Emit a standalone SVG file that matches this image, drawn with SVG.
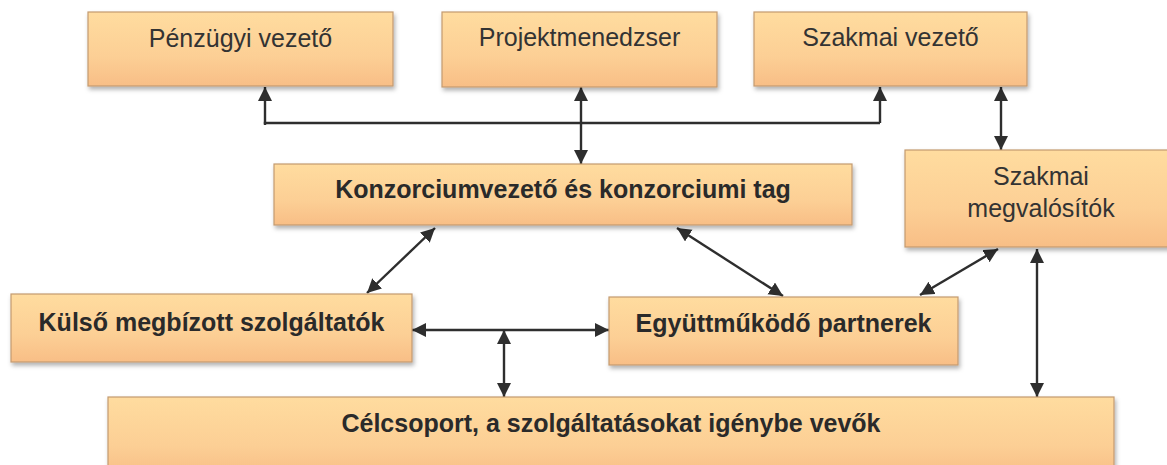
<svg xmlns="http://www.w3.org/2000/svg" width="1167" height="465" viewBox="0 0 1167 465">
<defs>
<linearGradient id="g" x1="0" y1="0" x2="0" y2="1">
<stop offset="0" stop-color="#FFDC9F"/>
<stop offset="0.6" stop-color="#FCCF95"/>
<stop offset="1" stop-color="#F8BE86"/>
</linearGradient>
<filter id="sh" x="-5%" y="-10%" width="110%" height="130%">
<feDropShadow dx="1.5" dy="3" stdDeviation="2" flood-color="#000" flood-opacity="0.3"/>
</filter>
<marker id="ah" markerUnits="userSpaceOnUse" markerWidth="15" markerHeight="15" refX="14" refY="7" orient="auto-start-reverse">
<path d="M0,0 L14,7 L0,14 z" fill="#2e2e2e"/>
</marker>
</defs>
<style>
.box{fill:url(#g);stroke:#C39A70;stroke-width:1.2;filter:url(#sh)}
.t{font-family:"Liberation Sans",Arial,sans-serif;font-size:25px;fill:#333;text-anchor:middle}
.b{font-weight:bold;fill:#2a2a2a}
.c{fill:none;stroke:#2e2e2e;stroke-width:2.4}
.a{marker-start:url(#ah);marker-end:url(#ah)}
</style>
<rect width="1167" height="465" fill="#fff"/>
<g id="connectors">
<path class="c" d="M265,125 V123 H880"/>
<path class="c" d="M265,124 V87" marker-end="url(#ah)"/>
<path class="c" d="M880,123 V87" marker-end="url(#ah)"/>
<path class="c a" d="M581,87 V164"/>
<path class="c a" d="M1001,87 V150"/>
<path class="c a" d="M435,228 L367,293"/>
<path class="c a" d="M677,228 L783,296"/>
<path class="c a" d="M412,330 H609"/>
<path class="c" d="M504,330 V397" marker-start="url(#ah)" marker-end="url(#ah)"/>
<path class="c a" d="M998,249 L920,295"/>
<path class="c a" d="M1037,249 V397"/>
</g>
<g id="penzugyi">
<rect class="box" x="88" y="12" width="305" height="74"/>
<text class="t" x="240.5" y="47">Pénzügyi vezető</text>
</g>
<g id="projektmenedzser">
<rect class="box" x="442" y="12" width="275" height="75"/>
<text class="t" x="579.5" y="46">Projektmenedzser</text>
</g>
<g id="szakmai-vezeto">
<rect class="box" x="754" y="12" width="273" height="74"/>
<text class="t" x="890.5" y="46">Szakmai vezető</text>
</g>
<g id="szakmai-megvalositok">
<rect class="box" x="905" y="150" width="272" height="97"/>
<text class="t" x="1041" y="185">Szakmai</text>
<text class="t" x="1041" y="217">megvalósítók</text>
</g>
<g id="konzorcium">
<rect class="box" x="274" y="164" width="578" height="61"/>
<text class="t b" x="563" y="198">Konzorciumvezető és konzorciumi tag</text>
</g>
<g id="kulso">
<rect class="box" x="11" y="294" width="401" height="68"/>
<text class="t b" x="211.5" y="331">Külső megbízott szolgáltatók</text>
</g>
<g id="egyuttmukodo">
<rect class="box" x="609" y="297" width="349" height="68"/>
<text class="t b" x="783.5" y="332">Együttműködő partnerek</text>
</g>
<g id="celcsoport">
<rect class="box" x="108" y="397" width="1006" height="80"/>
<text class="t b" x="611" y="432">Célcsoport, a szolgáltatásokat igénybe vevők</text>
</g>
</svg>
